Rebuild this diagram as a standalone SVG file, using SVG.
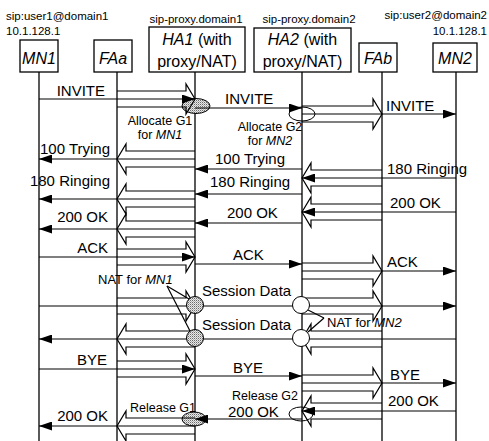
<svg xmlns="http://www.w3.org/2000/svg" width="489" height="441" viewBox="0 0 489 441">
<style>
text{font-family:"Liberation Sans",Arial,sans-serif;fill:#000}
.m{font-size:15px}
.s{font-size:12.5px}
.n{font-size:13px}
.t{font-size:11.5px}
.b{font-size:16px}
.i{font-style:italic}
.box{fill:#fff;stroke:#000;stroke-width:1.3}
.life{stroke:#000;stroke-width:1.3}
.th{stroke:#000;stroke-width:1.2;fill:none}
.tun{stroke:#000;stroke-width:1.2;fill:none}
.dot{fill:url(#dots);stroke:#000;stroke-width:1}
.wh{fill:#fff;stroke:#000;stroke-width:1}
.eo{fill:none;stroke:#000;stroke-width:1}
</style>
<defs>
<marker id="arr" markerWidth="13" markerHeight="9" refX="13" refY="4.5" orient="auto" markerUnits="userSpaceOnUse">
<path d="M0,0 L13,4.5 L0,9 z" fill="#000"/>
</marker>
<pattern id="dots" width="2" height="2" patternUnits="userSpaceOnUse">
<rect width="2" height="2" fill="#e8e8e8"/>
<rect x="0" y="0" width="1" height="1" fill="#6a6a6a"/>
<rect x="1" y="1" width="1" height="1" fill="#b0b0b0"/>
</pattern>
</defs>
<rect width="489" height="441" fill="#fff"/>

<text class="t" x="6" y="20">sip:user1@domain1</text>
<text class="t" x="6" y="35">10.1.128.1</text>
<text class="t" x="196" y="23" text-anchor="middle">sip-proxy.domain1</text>
<text class="t" x="309" y="23" text-anchor="middle">sip-proxy.domain2</text>
<text class="t" x="487" y="19" text-anchor="end">sip:user2@domain2</text>
<text class="t" x="487" y="35" text-anchor="end">10.1.128.1</text>

<g id="MN1">
<line class="life" x1="39" y1="72" x2="39" y2="441"/>
<rect class="box" x="20" y="40" width="38" height="32"/>
<text class="b i" x="39" y="64" text-anchor="middle">MN1</text>
</g>
<g id="FAa">
<line class="life" x1="117" y1="72" x2="117" y2="441"/>
<rect class="box" x="94" y="40" width="38" height="32"/>
<text class="b i" x="113" y="64" text-anchor="middle">FAa</text>
</g>
<g id="HA1">
<line class="life" x1="195" y1="72" x2="195" y2="441"/>
<rect class="box" x="149" y="27" width="96" height="45"/>
<text class="b" x="197" y="45" text-anchor="middle"><tspan class="i">HA1</tspan> (with</text>
<text class="b" x="197" y="67" text-anchor="middle">proxy/NAT)</text>
</g>
<g id="HA2">
<line class="life" x1="302" y1="72" x2="302" y2="441"/>
<rect class="box" x="254" y="28" width="97" height="44"/>
<text class="b" x="302.5" y="45" text-anchor="middle"><tspan class="i">HA2</tspan> (with</text>
<text class="b" x="302.5" y="67" text-anchor="middle">proxy/NAT)</text>
</g>
<g id="FAb">
<line class="life" x1="382" y1="72" x2="382" y2="441"/>
<rect class="box" x="359" y="43" width="38" height="29"/>
<text class="b i" x="378" y="64" text-anchor="middle">FAb</text>
</g>
<g id="MN2">
<line class="life" x1="456" y1="72" x2="456" y2="441"/>
<rect class="box" x="433" y="43" width="44" height="29"/>
<text class="b i" x="455" y="64" text-anchor="middle">MN2</text>
</g>

<g id="markers-ha">
<ellipse class="dot" cx="196" cy="106" rx="14" ry="7.5"/>
<ellipse class="eo" cx="302" cy="114" rx="13" ry="7"/>
<ellipse class="eo" cx="301" cy="414" rx="12" ry="7"/>
<ellipse class="dot" cx="194" cy="419" rx="12" ry="7"/>
</g>

<g id="connectors">
<path class="tun" d="M117,91 H186 V84 L195,99 L186,114 V107 H117"/>
<line class="th" x1="39" y1="99" x2="195" y2="99" marker-end="url(#arr)"/>
<line class="th" x1="195" y1="108" x2="302" y2="108" marker-end="url(#arr)"/>
<path class="tun" d="M302,106 H373 V99 L382,114 L373,129 V122 H302"/>
<line class="th" x1="302" y1="114" x2="456" y2="114" marker-end="url(#arr)"/>
<path class="tun" d="M195,151 H126 V144 L117,159 L126,174 V167 H195"/>
<line class="th" x1="195" y1="159" x2="39" y2="159" marker-end="url(#arr)"/>
<line class="th" x1="302" y1="169" x2="195" y2="169" marker-end="url(#arr)"/>
<path class="tun" d="M382,170 H311 V163 L302,178 L311,193 V186 H382"/>
<line class="th" x1="456" y1="178" x2="302" y2="178" marker-end="url(#arr)"/>
<line class="th" x1="302" y1="194" x2="195" y2="194" marker-end="url(#arr)"/>
<path class="tun" d="M195,191 H126 V184 L117,199 L126,214 V207 H195"/>
<line class="th" x1="195" y1="199" x2="39" y2="199" marker-end="url(#arr)"/>
<path class="tun" d="M382,204 H311 V197 L302,212 L311,227 V220 H382"/>
<line class="th" x1="456" y1="212" x2="302" y2="212" marker-end="url(#arr)"/>
<line class="th" x1="302" y1="223" x2="195" y2="223" marker-end="url(#arr)"/>
<path class="tun" d="M195,221 H126 V214 L117,229 L126,244 V237 H195"/>
<line class="th" x1="195" y1="229" x2="39" y2="229" marker-end="url(#arr)"/>
<path class="tun" d="M117,249 H186 V242 L195,257 L186,272 V265 H117"/>
<line class="th" x1="39" y1="257" x2="195" y2="257" marker-end="url(#arr)"/>
<line class="th" x1="195" y1="264" x2="302" y2="264" marker-end="url(#arr)"/>
<path class="tun" d="M302,263 H373 V256 L382,271 L373,286 V279 H302"/>
<line class="th" x1="302" y1="271" x2="456" y2="271" marker-end="url(#arr)"/>
<path class="tun" d="M117,298 H186 V291 L195,306 L186,321 V314 H117"/>
<path class="tun" d="M302,298 H373 V291 L382,306 L373,321 V314 H302"/>
<line class="th" x1="39" y1="306" x2="456" y2="306" marker-end="url(#arr)"/>
<path class="tun" d="M382,331 H311 V324 L302,339 L311,354 V347 H382"/>
<path class="tun" d="M195,331 H126 V324 L117,339 L126,354 V347 H195"/>
<line class="th" x1="456" y1="339" x2="39" y2="339" marker-end="url(#arr)"/>
<line class="th" x1="167" y1="286" x2="189" y2="299"/>
<line class="th" x1="167" y1="286" x2="190" y2="331"/>
<line class="th" x1="324" y1="318" x2="308" y2="310"/>
<line class="th" x1="324" y1="318" x2="308" y2="332"/>
<path class="tun" d="M117,361 H186 V354 L195,369 L186,384 V377 H117"/>
<line class="th" x1="39" y1="369" x2="195" y2="369" marker-end="url(#arr)"/>
<line class="th" x1="195" y1="376" x2="302" y2="376" marker-end="url(#arr)"/>
<path class="tun" d="M302,375 H373 V368 L382,383 L373,398 V391 H302"/>
<line class="th" x1="302" y1="383" x2="456" y2="383" marker-end="url(#arr)"/>
<path class="tun" d="M382,403 H311 V396 L302,411 L311,426 V419 H382"/>
<line class="th" x1="456" y1="411" x2="302" y2="411" marker-end="url(#arr)"/>
<line class="th" x1="302" y1="419" x2="195" y2="419" marker-end="url(#arr)"/>
<path class="tun" d="M195,418 H126 V411 L117,426 L126,441 V434 H195"/>
<line class="th" x1="195" y1="426" x2="39" y2="426" marker-end="url(#arr)"/>
</g>

<g id="nat-points">
<circle class="dot" cx="195" cy="305" r="8.5"/>
<circle class="wh" cx="301" cy="305" r="8.5"/>
<circle class="dot" cx="195" cy="338" r="8.5"/>
<circle class="wh" cx="301" cy="338" r="8.5"/>
</g>

<g id="labels">
<text class="m" x="105" y="96" text-anchor="end">INVITE</text>
<text class="m" x="225" y="104">INVITE</text>
<text class="m" x="386" y="111">INVITE</text>
<text class="s" x="160" y="125" text-anchor="middle">Allocate G1</text>
<text class="s" x="160" y="139" text-anchor="middle">for <tspan class="i">MN1</tspan></text>
<text class="s" x="270" y="131" text-anchor="middle">Allocate G2</text>
<text class="s" x="270" y="145" text-anchor="middle">for <tspan class="i">MN2</tspan></text>
<text class="m" x="110" y="154" text-anchor="end">100 Trying</text>
<text class="m" x="215" y="164">100 Trying</text>
<text class="m" x="387" y="174">180 Ringing</text>
<text class="m" x="110" y="186" text-anchor="end">180 Ringing</text>
<text class="m" x="210" y="187">180 Ringing</text>
<text class="m" x="390" y="208">200 OK</text>
<text class="m" x="227" y="218">200 OK</text>
<text class="m" x="108" y="222" text-anchor="end">200 OK</text>
<text class="m" x="108" y="253" text-anchor="end">ACK</text>
<text class="m" x="233" y="260">ACK</text>
<text class="m" x="387" y="267">ACK</text>
<text class="n" x="98" y="284">NAT for <tspan class="i">MN1</tspan></text>
<text class="m" x="202" y="296">Session Data</text>
<text class="m" x="202" y="330">Session Data</text>
<text class="n" x="327" y="327">NAT for <tspan class="i">MN2</tspan></text>
<text class="m" x="107" y="365" text-anchor="end">BYE</text>
<text class="m" x="233" y="373">BYE</text>
<text class="m" x="390" y="380">BYE</text>
<text class="s" x="265" y="400" text-anchor="middle">Release G2</text>
<text class="m" x="388" y="406">200 OK</text>
<text class="s" x="163" y="412" text-anchor="middle">Release G1</text>
<text class="m" x="228" y="417">200 OK</text>
<text class="m" x="108" y="421" text-anchor="end">200 OK</text>
</g>
</svg>
